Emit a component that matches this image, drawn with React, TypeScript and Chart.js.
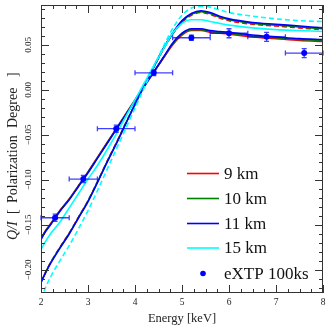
import React, { useEffect, useRef } from 'react';
import { Chart, registerables } from 'chart.js';

Chart.register(...registerables);

// ---------- data ----------
const energy = [2.0, 2.1, 2.2, 2.4, 2.6, 2.8, 3.0, 3.2, 3.4, 3.6, 3.8, 4.0, 4.2, 4.4, 4.6, 4.8, 5.0, 5.2, 5.4, 5.6, 5.8, 6.0, 6.5, 7.0, 7.5, 8.0];

// model A
const q9A = [-0.165, -0.156, -0.149, -0.134, -0.121, -0.106, -0.091, -0.075, -0.059, -0.043, -0.027, -0.011, 0.005, 0.020, 0.035, 0.050, 0.061, 0.066, 0.066, 0.064, 0.063, 0.062, 0.059, 0.057, 0.055, 0.054];
const q10A = [-0.1655, -0.1565, -0.1495, -0.1345, -0.1215, -0.1065, -0.0915, -0.0755, -0.0595, -0.0435, -0.0275, -0.0115, 0.0045, 0.020, 0.0355, 0.051, 0.062, 0.067, 0.067, 0.065, 0.064, 0.063, 0.060, 0.058, 0.056, 0.055];
const q11A = [-0.166, -0.157, -0.150, -0.135, -0.122, -0.107, -0.092, -0.076, -0.060, -0.044, -0.028, -0.012, 0.004, 0.020, 0.036, 0.052, 0.063, 0.068, 0.068, 0.066, 0.065, 0.064, 0.061, 0.059, 0.057, 0.056];
const q15A = [-0.177, -0.168, -0.160, -0.147, -0.131, -0.115, -0.099, -0.084, -0.067, -0.049, -0.030, -0.011, 0.008, 0.027, 0.045, 0.063, 0.074, 0.078, 0.078, 0.076, 0.074, 0.072, 0.069, 0.067, 0.066, 0.065];

// model B
const q9B = [-0.213, -0.202, -0.192, -0.175, -0.159, -0.141, -0.123, -0.102, -0.080, -0.059, -0.037, -0.016, 0.005, 0.025, 0.045, 0.062, 0.075, 0.083, 0.086, 0.084, 0.080, 0.077, 0.073, 0.071, 0.069, 0.067];
const q10B = [-0.2135, -0.2025, -0.1925, -0.1755, -0.1595, -0.1415, -0.1235, -0.1025, -0.0805, -0.0595, -0.0375, -0.016, 0.005, 0.0255, 0.0455, 0.0625, 0.076, 0.084, 0.087, 0.085, 0.081, 0.078, 0.074, 0.072, 0.070, 0.068];
const q11B = [-0.214, -0.203, -0.193, -0.176, -0.160, -0.142, -0.124, -0.103, -0.081, -0.060, -0.038, -0.016, 0.005, 0.026, 0.046, 0.063, 0.077, 0.085, 0.088, 0.086, 0.082, 0.079, 0.075, 0.073, 0.071, 0.069];
const q15B = [-0.232, -0.219, -0.208, -0.190, -0.173, -0.154, -0.134, -0.112, -0.089, -0.066, -0.043, -0.020, 0.003, 0.026, 0.048, 0.068, 0.083, 0.091, 0.093, 0.092, 0.089, 0.086, 0.082, 0.079, 0.077, 0.076];

// eXTP simulated observation
const obsE = [2.3, 2.9, 3.6, 4.4, 5.2, 6.0, 6.8, 7.6];
const obsQ = [-0.142, -0.099, -0.043, 0.019, 0.058, 0.063, 0.059, 0.041];
const obsEErr = [0.3, 0.3, 0.4, 0.4, 0.4, 0.4, 0.4, 0.4];
const obsQErr = [0.004, 0.004, 0.004, 0.003, 0.003, 0.005, 0.005, 0.005];

// ticks
const xTickValues = [2, 3, 4, 5, 6, 7, 8];
const xTickLabels = ['2', '3', '4', '5', '6', '7', '8'];
const yTickValues = [0.05, 0.0, -0.05, -0.1, -0.15, -0.2];
const yTickLabels = ['0.05', '0.00', '\u22120.05', '\u22120.10', '\u22120.15', '\u22120.20'];
const xMinorStep = 0.25;
const yMinorStep = 0.01;

const legendLabels = ['9 km', '10 km', '11 km', '15 km', 'eXTP 100ks'];
const colors = { r9: '#ff0000', r10: '#008000', r11: '#0000ff', r15: '#00ffff', obs: '#0000ff' };

const X_MIN = 2, X_MAX = 8, Y_MIN = -0.2256, Y_MAX = 0.0944;
const SERIF = '"Liberation Serif", "Times New Roman", serif';

const toXY = (ys: number[]) => energy.map((e, i) => ({ x: e, y: ys[i] }));

const overlay = {
  id: 'overlay',
  beforeDatasetDraw(chart: any, args: any) {
    if (args.index !== 0) return;
    const xs = chart.scales.x, ys = chart.scales.y, ctx = chart.ctx;
    ctx.save();
    ctx.strokeStyle = 'rgba(0,0,255,0.75)';
    ctx.lineWidth = 1.3;
    const cap = 2.5;
    for (let i = 0; i < obsE.length; i++) {
      const xa = xs.getPixelForValue(obsE[i] - obsEErr[i]);
      const xb = xs.getPixelForValue(obsE[i] + obsEErr[i]);
      const xc = xs.getPixelForValue(obsE[i]);
      const yc = ys.getPixelForValue(obsQ[i]);
      const ya = ys.getPixelForValue(obsQ[i] - obsQErr[i]);
      const yb = ys.getPixelForValue(obsQ[i] + obsQErr[i]);
      ctx.beginPath();
      ctx.moveTo(xa, yc); ctx.lineTo(xb, yc);
      ctx.moveTo(xa, yc - cap); ctx.lineTo(xa, yc + cap);
      ctx.moveTo(xb, yc - cap); ctx.lineTo(xb, yc + cap);
      ctx.moveTo(xc, ya); ctx.lineTo(xc, yb);
      ctx.moveTo(xc - cap, ya); ctx.lineTo(xc + cap, ya);
      ctx.moveTo(xc - cap, yb); ctx.lineTo(xc + cap, yb);
      ctx.stroke();
    }
    ctx.restore();
  },
  afterDraw(chart: any) {
    const { ctx, chartArea: a } = chart;
    const xs = chart.scales.x, ys = chart.scales.y;
    ctx.save();
    // frame
    ctx.strokeStyle = '#333';
    ctx.lineWidth = 1;
    ctx.strokeRect(a.left + 0.5, a.top + 0.5, a.right - a.left - 1, a.bottom - a.top - 1);
    // ticks
    ctx.beginPath();
    const major = 8, minor = 4;
    const nx = Math.round((X_MAX - X_MIN) / xMinorStep);
    for (let k = 0; k <= nx; k++) {
      const v = X_MIN + k * xMinorStep;
      const isMajor = Math.abs(v - Math.round(v)) < 1e-6;
      const L = isMajor ? major : minor;
      const px = Math.round(xs.getPixelForValue(v)) + 0.5;
      ctx.moveTo(px, a.bottom); ctx.lineTo(px, a.bottom - L);
      ctx.moveTo(px, a.top); ctx.lineTo(px, a.top + L);
    }
    const ky0 = Math.ceil(Y_MIN / yMinorStep), ky1 = Math.floor(Y_MAX / yMinorStep);
    for (let k = ky0; k <= ky1; k++) {
      const v = k * yMinorStep;
      const isMajor = k % 5 === 0;
      const L = isMajor ? major : minor;
      const py = Math.round(ys.getPixelForValue(v)) + 0.5;
      ctx.moveTo(a.left, py); ctx.lineTo(a.left + L, py);
      ctx.moveTo(a.right, py); ctx.lineTo(a.right - L, py);
    }
    ctx.stroke();
    // tick labels
    ctx.fillStyle = '#222';
    ctx.font = `9.5px ${SERIF}`;
    ctx.textAlign = 'center';
    ctx.textBaseline = 'middle';
    xTickValues.forEach((v, i) => ctx.fillText(xTickLabels[i], xs.getPixelForValue(v), a.bottom + 9.5));
    ctx.font = `9px ${SERIF}`;
    yTickValues.forEach((v, i) => {
      ctx.save();
      ctx.translate(a.left - 12, ys.getPixelForValue(v));
      ctx.rotate(-Math.PI / 2);
      ctx.fillText(yTickLabels[i], 0, 0);
      ctx.restore();
    });
    // x title
    ctx.font = `12.5px ${SERIF}`;
    ctx.fillText('Energy [keV]', (a.left + a.right) / 2, 319);
    // y title
    ctx.save();
    ctx.translate(13, 240);
    ctx.rotate(-Math.PI / 2);
    ctx.textAlign = 'left';
    ctx.font = `italic 14px ${SERIF}`;
    ctx.fillText('Q/I', 0, 0);
    ctx.font = `14px ${SERIF}`;
    ctx.fillText('[', 26, 0);
    ctx.fillText('Polarization', 37, 0);
    ctx.fillText('Degree', 112, 0);
    ctx.fillText(']', 163, 0);
    ctx.restore();
    // legend
    const legendColors = [colors.r9, colors.r10, colors.r11, colors.r15];
    const ly = [173.5, 198.5, 223.5, 248, 273.5];
    ctx.font = `17px ${SERIF}`;
    ctx.textAlign = 'left';
    ctx.fillStyle = '#111';
    for (let i = 0; i < 4; i++) {
      ctx.strokeStyle = legendColors[i];
      ctx.lineWidth = 1.6;
      ctx.beginPath();
      ctx.moveTo(187, ly[i]); ctx.lineTo(219, ly[i]);
      ctx.stroke();
      ctx.fillText(legendLabels[i], 224, ly[i] + 1);
    }
    ctx.fillStyle = colors.obs;
    ctx.beginPath();
    ctx.arc(203, ly[4], 2.8, 0, Math.PI * 2);
    ctx.fill();
    ctx.fillStyle = '#111';
    ctx.fillText(legendLabels[4], 224, ly[4] + 1);
    ctx.restore();
  },
};

export default function App() {
  const ref = useRef<HTMLCanvasElement | null>(null);
  useEffect(() => {
    if (!ref.current) return;
    const line = (label: string, data: number[], color: string, dashed: boolean) => ({
      type: 'line' as const,
      label,
      data: toXY(data),
      borderColor: color,
      backgroundColor: color,
      borderWidth: 1.6,
      borderDash: dashed ? [5, 3] : [],
      pointRadius: 0,
      cubicInterpolationMode: 'monotone' as const,
      fill: false,
    });
    const chart = new Chart(ref.current, {
      type: 'line',
      data: {
        datasets: [
          {
            type: 'scatter',
            label: 'eXTP 100ks',
            data: obsE.map((e, i) => ({ x: e, y: obsQ[i] })),
            backgroundColor: colors.obs,
            borderColor: colors.obs,
            pointRadius: 3,
            pointBorderWidth: 0,
            showLine: false,
          } as any,
          line('15 km', q15B, colors.r15, true),
          line('15 km', q15A, colors.r15, false),
          line('11 km', q11B, colors.r11, false),
          line('11 km', q11A, colors.r11, false),
          line('10 km', q10B, colors.r10, false),
          line('10 km', q10A, colors.r10, false),
          line('9 km', q9B, colors.r9, true),
          line('9 km', q9A, colors.r9, false),
        ],
      },
      options: {
        responsive: false,
        animation: false,
        layout: { padding: { left: 41, top: 5, right: 9, bottom: 39 } },
        plugins: { legend: { display: false }, tooltip: { enabled: false }, title: { display: false } },
        scales: {
          x: { type: 'linear', min: X_MIN, max: X_MAX, display: false },
          y: { type: 'linear', min: Y_MIN, max: Y_MAX, display: false },
        },
      },
      plugins: [overlay],
    });
    return () => chart.destroy();
  }, []);
  return (
    <div style={{ position: 'fixed', left: 0, top: 0, width: 332, height: 332, background: '#fff' }}>
      <canvas ref={ref} width={332} height={332} style={{ display: 'block' }} />
    </div>
  );
}
